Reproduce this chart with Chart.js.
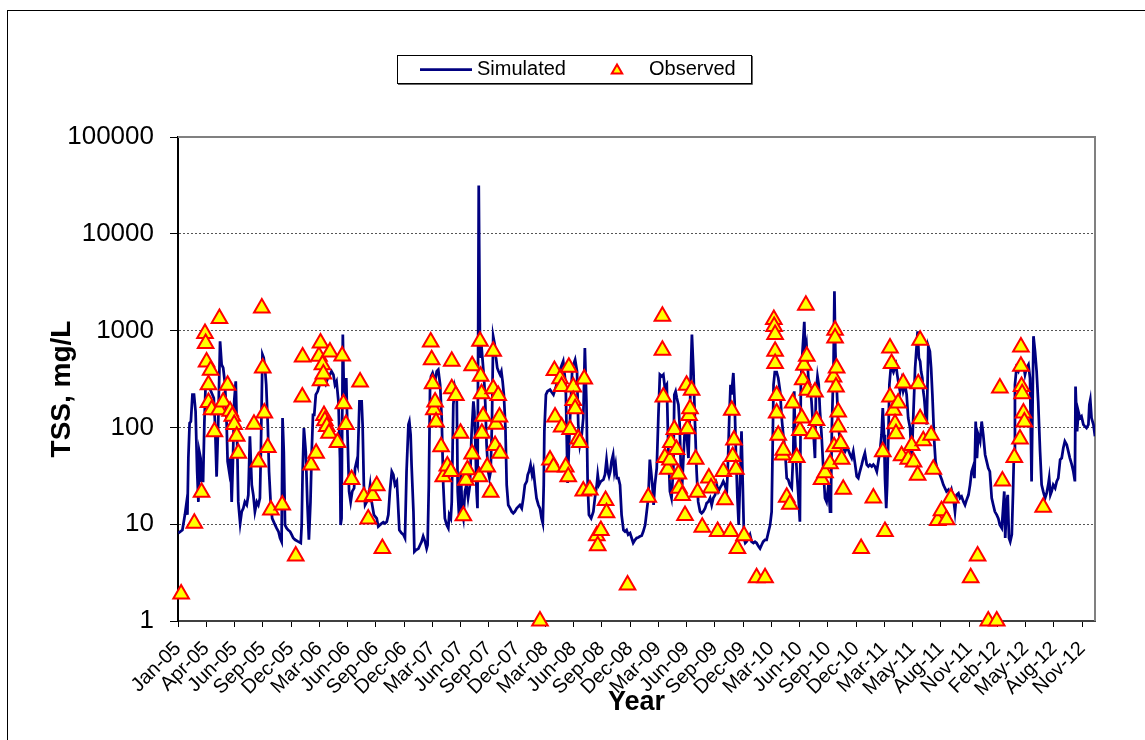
<!DOCTYPE html>
<html>
<head>
<meta charset="utf-8">
<title>TSS - Simulated vs Observed</title>
<script src="https://cdn.jsdelivr.net/npm/chart.js@4.4.1/dist/chart.umd.min.js"></script>
<style>
    html, body { margin: 0; padding: 0; background: #fff; }
    #frame { position: absolute; left: 7px; top: 10px; width: 1200px; height: 800px; border: 1px solid #000; }
    #chart { position: absolute; left: 0; top: 0; }
</style>
</head>
<body>
<div id="frame"></div>
<canvas id="chart" width="1145" height="740"></canvas>
<script>
// Days are counted from 1 Jan 2005
const xTickLabels = ['Jan-05', 'Apr-05', 'Jun-05', 'Sep-05', 'Dec-05', 'Mar-06', 'Jun-06', 'Sep-06', 'Dec-06',
    'Mar-07', 'Jun-07', 'Sep-07', 'Dec-07', 'Mar-08', 'Jun-08', 'Sep-08', 'Dec-08', 'Mar-09', 'Jun-09', 'Sep-09',
    'Dec-09', 'Mar-10', 'Jun-10', 'Sep-10', 'Dec-10', 'Mar-11', 'May-11', 'Aug-11', 'Nov-11', 'Feb-12', 'May-12',
    'Aug-12', 'Nov-12'];
const TICK_STEP_DAYS = 90;   // major unit of the date axis
const LAST_DAY = 2921;       // 31 Dec 2012
const yTicks = [1, 10, 100, 1000, 10000, 100000];

// Simulated daily TSS (mg/L)
const simDays = [
    1, 14, 22, 27, 30, 33, 37, 41, 46, 51, 56, 61, 65, 68, 72, 75, 80, 84, 88, 97,
    105, 114, 118, 123, 128, 134, 139, 144, 150, 155, 158, 163, 167, 171, 175, 179, 184, 188, 192, 198,
    203, 208, 213, 219, 224, 229, 235, 240, 245, 251, 256, 261, 264, 269, 273, 277, 281, 286, 290, 295,
    300, 307, 314, 320, 325, 330, 333, 337, 341, 346, 351, 357, 362, 367, 373, 383, 391, 394, 397, 401,
    407, 412, 417, 422, 426, 430, 434, 439, 445, 451, 456, 463, 470, 477, 484, 489, 495, 500, 505, 511,
    516, 518, 521, 525, 528, 532, 536, 540, 545, 550, 555, 561, 564, 569, 572, 578,
    585, 588, 592, 596, 601, 606, 612, 617, 624, 633, 638, 643, 649, 654, 659, 665, 670, 675, 681, 686,
    691, 697, 700, 705, 712, 718, 723, 728, 734, 737, 741, 744, 750, 753, 758, 766, 771, 776, 781, 787,
    792, 795, 799, 803, 806, 811, 819, 824, 829, 835, 840, 845, 850, 856, 861, 864, 869, 872, 877, 882,
    888, 891, 895, 898, 901, 905, 909, 914, 919, 924, 930, 935, 941, 944, 948, 951, 954, 958, 962, 965,
    968, 973, 976, 979, 983, 988, 992, 996, 1000, 1004, 1009, 1013, 1017, 1021, 1026, 1030, 1034, 1038, 1043, 1047,
    1052, 1058, 1063, 1068, 1073, 1079, 1084, 1089, 1095, 1100, 1105, 1111, 1114, 1118, 1123, 1128, 1132, 1137, 1142, 1148,
    1153, 1158, 1162, 1165, 1167, 1172, 1177,
    1185, 1196, 1206, 1217, 1227, 1235, 1241, 1249, 1256, 1265, 1271, 1275, 1280, 1286, 1291, 1296, 1301, 1305, 1309, 1316,
    1323, 1328, 1334, 1337, 1341, 1347, 1355, 1360, 1365, 1369, 1373, 1377, 1381, 1386, 1390, 1394, 1398, 1403, 1408, 1413,
    1419, 1424, 1429, 1434, 1440, 1445, 1450, 1456, 1461, 1466, 1472, 1477, 1482, 1488, 1493, 1498, 1503, 1507, 1511, 1515,
    1519, 1525, 1530, 1535, 1541, 1546, 1551, 1557, 1562, 1567, 1572, 1578, 1581, 1585, 1589, 1594, 1598, 1602, 1606, 1611,
    1615, 1620, 1626, 1630, 1634, 1637, 1642, 1647, 1652, 1657, 1663, 1668, 1673, 1679, 1684, 1689, 1695, 1700, 1705, 1711,
    1716, 1721, 1726, 1732, 1737, 1742, 1748, 1751, 1756, 1760,
    1763, 1769, 1773, 1777, 1782, 1786, 1790, 1795, 1799, 1803, 1807, 1811, 1817, 1822, 1827, 1833, 1838, 1843, 1849, 1854,
    1859, 1864, 1870, 1875, 1880, 1886, 1891, 1894, 1897, 1901, 1907, 1912, 1918, 1923, 1928, 1934, 1939, 1944, 1949, 1955,
    1960, 1963, 1966, 1971, 1976, 1981, 1984, 1988, 1992, 1995, 1998, 2002, 2008, 2013, 2018, 2024, 2029, 2032, 2037, 2041,
    2045, 2050, 2056, 2061, 2066, 2072, 2077, 2080, 2083, 2088, 2091, 2094, 2098, 2103, 2109, 2114, 2119, 2125, 2130, 2135,
    2141, 2146, 2151, 2157, 2162, 2167, 2172, 2178, 2183, 2188, 2194, 2199, 2204, 2210, 2215, 2220, 2226, 2231, 2236, 2241,
    2245, 2249, 2252, 2256, 2259, 2263, 2266, 2270, 2274, 2279, 2283, 2287, 2291, 2296, 2300, 2305, 2310, 2316, 2321, 2326,
    2332, 2337, 2342, 2348,
    2356, 2360, 2364, 2367, 2371, 2374, 2377, 2382, 2385, 2390, 2395, 2399, 2403, 2406, 2409, 2413, 2420, 2427, 2433, 2438,
    2443, 2448, 2454, 2459, 2464, 2470, 2475, 2480, 2486, 2491, 2496, 2502, 2507, 2512, 2518, 2523, 2528, 2533, 2537, 2541,
    2545, 2549, 2555, 2560, 2565, 2571, 2576, 2581, 2586, 2592, 2597, 2602, 2608, 2613, 2618, 2624, 2629, 2632, 2635, 2640,
    2643, 2647, 2651, 2656, 2660, 2663, 2666, 2671, 2677, 2682, 2687, 2693, 2698, 2703, 2709, 2714, 2719, 2725, 2730, 2735,
    2740, 2746, 2751, 2756, 2762, 2767, 2772, 2775, 2779, 2783, 2788, 2794, 2799, 2804, 2810, 2815, 2820, 2825, 2831, 2836,
    2841, 2847, 2852, 2857, 2859, 2864, 2868, 2873, 2878, 2884, 2889, 2894, 2900, 2903, 2906, 2910, 2916, 2921
];
const simTss = [
    8.1, 8.7, 12.5, 16.5, 12.5, 48, 111, 115, 218, 218, 146, 35, 17, 56, 48, 28, 28, 111, 276, 276,
    236, 201, 107, 31, 107, 776, 445, 411, 276, 107, 44.6, 35, 48, 17, 44.6, 186, 299, 84, 17, 10.2,
    13.5, 14.6, 17, 15.8, 20, 81, 25.5, 20, 13.5, 17, 15.8, 18.6, 56, 565, 522, 411, 276, 107, 35, 17,
    11.5, 10.2, 9.1, 8.4, 7.2, 6.6, 125, 56, 9.8, 9.1, 8.7, 8.4, 7.8, 7.2, 6.9, 6.6, 6.4, 9.8, 35, 98.6,
    56, 17, 6.9, 17, 56, 135, 135, 218, 236, 276, 380, 299, 276, 324, 351, 380, 351, 276, 299, 186,
    48, 9.8, 11.5, 909, 276, 236, 324, 84, 21.8, 17, 21.8, 23.6, 38, 44.6, 41.2, 186,
    186, 107, 25.5, 15.8, 17, 18.6, 25.5, 17, 12.5, 11.5, 9.45, 9.8, 10.2, 10.5, 10.2, 10.6, 12.5, 21.8, 35, 32.4,
    25.5, 27.7, 18.6, 8.7, 8.1, 7.8, 7.2, 35, 107, 115, 84, 41.2, 13.5, 5.2, 5.4, 5.6, 6.1, 6.6, 7.5, 6.6,
    5.6, 6.1, 25.5, 276, 337, 365, 299, 380, 395, 276, 125, 25.5, 11.5, 9.8, 9.1, 12.5, 11.5, 17, 172, 255,
    201, 21.8, 12.5, 21.8, 35, 13.5, 11.5, 21.8, 25.5, 18.6, 25.5, 84, 186, 146, 56, 21.8, 14.6, 31500, 611, 522,
    611, 380, 276, 172, 66, 35, 30, 35, 107, 874, 717, 522, 411, 380, 351, 380, 299, 218, 98.6, 25.5,
    15.8, 14.6, 13.5, 13, 13.5, 14.6, 15.2, 15.8, 14.6, 18.6, 25.5, 27.7, 32.4, 35, 41.2, 32.4, 36.5, 25.5, 18.6, 15.8,
    14.6, 11.5, 10.2, 25.5, 91, 218, 236,
    245, 218, 276, 395, 482, 276, 26.6, 125, 411, 501, 380, 107, 66, 84, 125, 662, 186, 25.5, 12.5, 11.5,
    13.5, 18.6, 25.5, 32.4, 25.5, 27.7, 28.8, 32.4, 46.4, 35, 31.2, 35, 44.6, 52.2, 35, 41.2, 29.9, 29.9, 25.5, 12.5,
    8.7, 8.4, 8.7, 7.8, 8.1, 7.2, 6.4, 6.9, 7.2, 7.3, 7.5, 7.6, 8.4, 9.8, 13.5, 18.6, 46.4, 35, 25.5, 15.8,
    25.5, 38, 125, 351, 337, 351, 255, 276, 56.5, 21.8, 18.6, 38, 218, 236, 201, 172, 107, 35, 25.5, 56.5,
    107, 84, 48.2, 125, 411, 909, 380, 107, 35, 17, 13.5, 13, 13.5, 14.6, 16.5, 17, 18.6, 15.8, 18.6, 20.1,
    25.5, 21.8, 23.6, 25.5, 27.7, 25.5, 21.8, 35, 125, 276,
    218, 365, 186, 56.5, 18.6, 9.8, 25.5, 91, 25.5, 7.2, 6.4, 6.6, 7.2, 7.8, 6.6, 6.4, 6.6, 6.4, 5.9, 5.6,
    6.1, 6.6, 6.9, 6.9, 8.1, 9.8, 13.5, 56.5, 276, 373, 373, 324, 236, 125, 84, 56.5, 29.9, 28.8, 25.5, 23.6,
    56.5, 236, 71.8, 35, 20.1, 10.6, 276, 522, 840, 1230, 611, 717, 324, 276, 186, 91, 48.2, 218, 337, 276,
    146, 84, 35, 18.6, 17, 25.5, 13.5, 18.6, 107, 411, 2550, 611, 276, 107, 71.8, 66.3, 61.2, 56.5, 61.2, 58.8,
    52.2, 48.2, 56.5, 41.2, 31.2, 29.9, 35, 41.2, 48.2, 54.3, 41.2, 39.5, 41.2, 39.5, 41.2, 39.5, 35, 44.6, 56.5, 84,
    158, 84, 29.9, 14.6, 25.5, 84, 276, 395, 411, 373, 411, 445, 351, 276, 236, 299, 236, 276, 218, 125,
    98.6, 44.6, 125, 411,
    985, 522, 482, 380, 324, 236, 201, 125, 107, 689, 611, 411, 218, 125, 71.8, 44.6, 35, 32.4, 28.8, 25.5,
    23.6, 21.8, 22.7, 20.1, 22.7, 18.6, 13.5, 20.1, 20.9, 18.6, 19.3, 17.1, 15.8, 17.8, 20.1, 25.5, 35, 39.5, 29.9, 115,
    48.2, 84, 71.8, 115, 84, 52.2, 44.6, 38, 35, 18.6, 15.8, 13.5, 12.5, 11.5, 9.8, 9.1, 15.8, 21.8, 7.2, 17.1,
    20.1, 7.2, 6.6, 7.8, 21.8, 56.5, 276, 411, 380, 428, 411, 445, 351, 411, 445, 324, 27.7, 874, 611, 380,
    186, 56.5, 25.5, 21.8, 18.6, 20.9, 25.5, 29.9, 20.1, 21.8, 25.5, 23.6, 27.7, 29.9, 46.4, 48.2, 61.2, 71.8, 66.3, 56.5,
    48.2, 41.2, 35, 27.7, 265, 91, 146, 125, 130, 107, 102.6, 98.6, 107, 172, 193, 125, 107, 80.8
];

// Observed grab samples (mg/L)
const obsDays = [
    10, 52, 75, 86, 88, 91, 97, 97, 104, 107, 116, 131, 132, 144, 158, 166, 173, 179, 187, 192,
    242, 256, 267, 270, 275, 286, 296, 332, 375, 396, 397, 424, 440, 449, 454, 454, 460, 463, 465, 468,
    474, 481, 484, 508, 523, 527, 535, 553, 580,
    592, 606, 620, 633, 651, 805, 808, 811, 815, 819, 822, 838, 845, 858, 869, 872, 872, 885, 900, 909,
    917, 922, 937, 937, 960, 962, 964, 967, 968, 972, 985, 996, 1004, 1004, 1010, 1013, 1020, 1024, 1026, 1153,
    1185, 1196, 1199, 1201, 1217, 1222, 1222, 1235, 1243, 1245, 1249, 1259, 1259, 1265, 1275, 1280, 1291, 1294, 1312, 1334,
    1337, 1347, 1362, 1365, 1432, 1498, 1543, 1543, 1546, 1551, 1560, 1567, 1570, 1581, 1588, 1594, 1596, 1606, 1615, 1620,
    1623, 1628, 1631, 1636, 1649, 1655, 1670, 1691, 1698, 1719, 1737, 1742, 1760,
    1764, 1767, 1771, 1777, 1782, 1803, 1843, 1870, 1898, 1899, 1902, 1902, 1902, 1907, 1907, 1912, 1926, 1928, 1939, 1949,
    1958, 1971, 1981, 1987, 1990, 1994, 2000, 2003, 2005, 2022, 2029, 2034, 2050, 2061, 2077, 2088, 2090, 2093, 2093, 2096,
    2098, 2103, 2103, 2111, 2114, 2119, 2176, 2215, 2245, 2252, 2268, 2268, 2273, 2279, 2284, 2287, 2294, 2305, 2310, 2326,
    2337, 2343,
    2356, 2358, 2364, 2364, 2374, 2399, 2406, 2420, 2432, 2448, 2462, 2525, 2547, 2581, 2608, 2618, 2626, 2664, 2682, 2685,
    2685, 2687, 2689, 2693, 2696, 2756
];
const obsTss = [
    1.9, 10.2, 21.4, 931, 735, 474, 276, 181, 389, 152, 90, 152, 1331, 183, 272, 147, 130, 107, 81, 54,
    108, 44, 1715, 411, 141, 62, 14, 15.8, 4.7, 206, 535, 41, 54, 542, 745, 304, 445, 356, 133, 117,
    102, 87, 601, 70, 547, 176, 107, 29, 294,
    19.2, 11.3, 19.8, 25, 5.6, 764, 501, 283, 152, 183, 114, 63, 31, 40, 35, 482, 251, 214, 87, 12.2,
    28.5, 36.5, 53, 434, 31, 776, 337, 223, 87, 130, 39, 21.4, 611, 251, 65, 108, 214, 128, 54, 1,
    46, 39, 386, 128, 319, 265, 101, 39, 31, 418, 95, 261, 190, 156, 76, 70, 22, 316, 22.6, 7.6,
    6.0, 8.6, 17.6, 13.1, 2.35, 19, 1406, 627, 206, 49, 37, 46, 70, 95, 59, 33, 23.5, 19.8, 12.3, 272,
    97, 133, 156, 242, 47, 21.4, 9.3, 30, 23.6, 8.4, 35, 17.9, 8.4,
    150, 50, 74, 37, 5.6, 7.6, 2.8, 2.8, 1300, 1100, 909, 611, 456, 214, 141, 83, 52, 58, 19, 16.1,
    179, 49, 93, 125, 311, 438, 1828, 542, 242, 86, 232, 118, 29, 34, 42, 332, 63, 1008, 840, 261,
    411, 144, 101, 68, 47, 23, 5.6, 18.6, 56, 8.4, 662, 206, 456, 150, 109, 86, 179, 51, 288, 47,
    65, 44,
    32, 283, 794, 123, 73, 83, 37, 10.9, 13.8, 11.1, 18.6, 2.8, 4.7, 1, 1, 255, 28, 49, 76, 678,
    428, 265, 223, 141, 114, 15
];

const FONT = 'Arial, "Liberation Sans", sans-serif';
Chart.defaults.font.family = FONT;
Chart.defaults.color = '#000';

// Gray frame on the top and right of the plot area (axes cover left/bottom)
const plotFrame = {
    id: 'plotFrame',
    beforeDatasetsDraw(chart) {
        const { ctx, chartArea: a } = chart;
        ctx.save();
        ctx.strokeStyle = '#808080';
        ctx.lineWidth = 2;
        ctx.beginPath();
        ctx.moveTo(a.left, a.top);
        ctx.lineTo(a.right, a.top);
        ctx.lineTo(a.right, a.bottom);
        ctx.stroke();
        ctx.restore();
    }
};

// Vertical axis title, sat a little below the middle of the plot like the Excel original
const yTitle = {
    id: 'yTitle',
    afterDraw(chart) {
        const { ctx, chartArea: a } = chart;
        ctx.save();
        ctx.translate(62, (a.top + a.bottom) / 2 + 10);
        ctx.rotate(-Math.PI / 2);
        ctx.font = 'bold 28px ' + FONT;
        ctx.fillStyle = '#000';
        ctx.textAlign = 'center';
        ctx.textBaseline = 'middle';
        ctx.fillText('TSS, mg/L', 0, 0);
        ctx.restore();
    }
};

// Boxed legend above the plot
const boxedLegend = {
    id: 'boxedLegend',
    afterDraw(chart) {
        const { ctx } = chart;
        const [sim, obs] = chart.data.datasets;
        ctx.save();
        ctx.fillStyle = '#fff';
        ctx.fillRect(397, 55, 355, 29);
        ctx.strokeStyle = '#000';
        ctx.lineWidth = 1;
        ctx.strokeRect(397.5, 55.5, 354, 28);
        ctx.strokeStyle = '#666';
        ctx.beginPath();
        ctx.moveTo(752.5, 56);
        ctx.lineTo(752.5, 84.5);
        ctx.lineTo(398, 84.5);
        ctx.stroke();

        const cy = 69.5;
        ctx.strokeStyle = sim.borderColor;
        ctx.lineWidth = sim.borderWidth;
        ctx.beginPath();
        ctx.moveTo(420, cy);
        ctx.lineTo(472, cy);
        ctx.stroke();

        ctx.fillStyle = obs.backgroundColor;
        ctx.strokeStyle = obs.borderColor;
        ctx.lineWidth = obs.borderWidth;
        Chart.helpers.drawPoint(ctx, { pointStyle: 'triangle', radius: 6, rotation: 0, borderWidth: obs.borderWidth }, 617, cy + 1);

        ctx.fillStyle = '#000';
        ctx.font = '20px ' + FONT;
        ctx.textBaseline = 'middle';
        ctx.fillText(sim.label, 477, cy);
        ctx.fillText(obs.label, 649, cy);
        ctx.restore();
    }
};

function buildChart() {
    const ctx = document.getElementById('chart').getContext('2d');
    new Chart(ctx, {
        type: 'line',
        data: {
            datasets: [{
                label: 'Simulated',
                data: simDays.map((d, i) => ({ x: d, y: simTss[i] })),
                borderColor: '#000080',
                borderWidth: 2.75,
                pointRadius: 0,
                tension: 0,
                fill: false,
                order: 2
            }, {
                type: 'scatter',
                label: 'Observed',
                data: obsDays.map((d, i) => ({ x: d, y: obsTss[i] })),
                pointStyle: 'triangle',
                pointRadius: 9,
                backgroundColor: '#FFFF00',
                borderColor: '#FF0000',
                borderWidth: 2,
                clip: false,
                order: 1
            }]
        },
        options: {
            responsive: false,
            animation: false,
            layout: { padding: { top: 137, right: 50, bottom: 0, left: 0 } },
            plugins: {
                legend: { display: false },
                tooltip: { enabled: false }
            },
            scales: {
                x: {
                    type: 'linear',
                    min: 0,
                    max: LAST_DAY,
                    afterBuildTicks: (scale) => {
                        scale.ticks = xTickLabels.map((_, i) => ({ value: i * TICK_STEP_DAYS }));
                    },
                    afterFit: (scale) => { scale.height = 119; },
                    grid: { drawOnChartArea: false, tickLength: 6, tickColor: '#000', tickWidth: 1 },
                    border: { color: '#404040', width: 2 },
                    ticks: {
                        autoSkip: false,
                        minRotation: 45,
                        maxRotation: 45,
                        padding: 10,
                        font: { size: 20 },
                        callback: (value, index) => xTickLabels[index]
                    },
                    title: {
                        display: true,
                        text: 'Year',
                        font: { size: 27, weight: 'bold' },
                        padding: { top: 0, bottom: 21 }
                    }
                },
                y: {
                    type: 'logarithmic',
                    min: 1,
                    max: 100000,
                    afterBuildTicks: (scale) => {
                        scale.ticks = yTicks.map(v => ({ value: v }));
                    },
                    afterFit: (scale) => { scale.width = 178; },
                    grid: { color: '#555', lineWidth: 1, tickColor: '#000', tickLength: 8, tickBorderDash: [] },
                    border: { color: '#000', width: 2, dash: [2, 2] },
                    ticks: {
                        padding: 16,
                        font: { size: 26 },
                        callback: (value) => String(value)
                    }
                }
            }
        },
        plugins: [plotFrame, yTitle, boxedLegend]
    });
}

document.addEventListener('DOMContentLoaded', buildChart);
</script>
</body>
</html>
